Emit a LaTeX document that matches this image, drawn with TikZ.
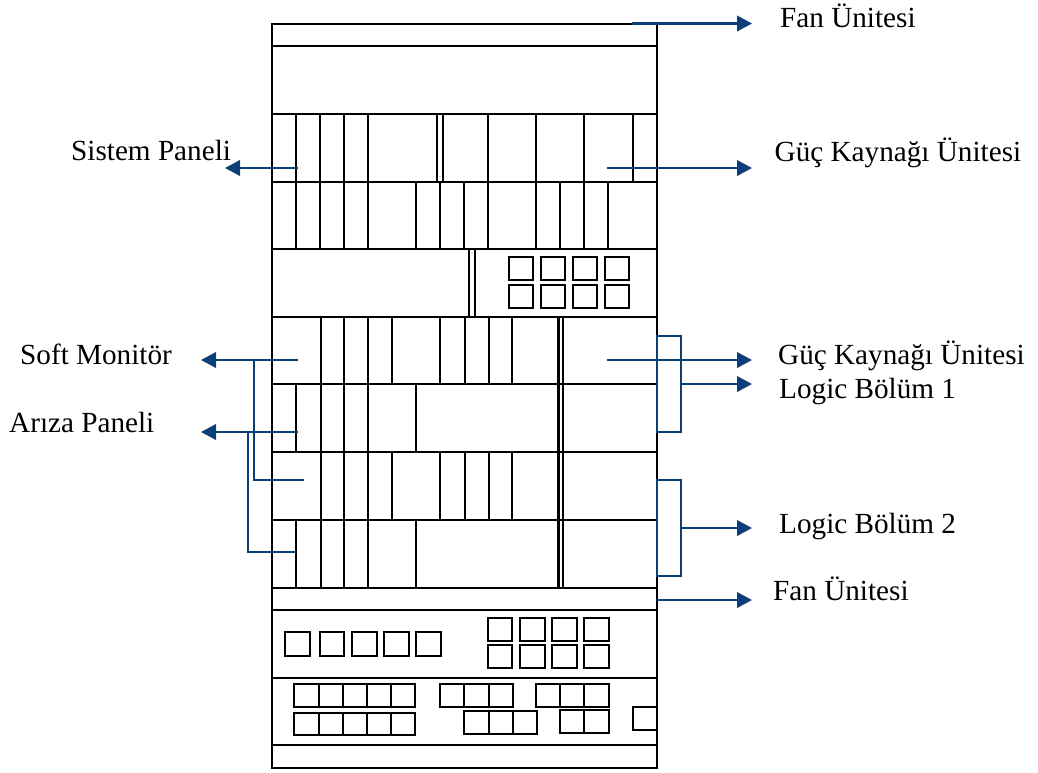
\documentclass[tikz,border=0pt]{standalone}
\usepackage{fontspec}
\setmainfont{Liberation Serif}
\usetikzlibrary{arrows.meta}
\definecolor{navy}{HTML}{0B3F78}
\tikzset{
  x=1pt,y=-1pt,
  rack/.style={draw=black,line width=1.9pt},
  part/.style={draw=black,line width=1.8pt},
  cell/.style={draw=black,line width=1.9pt},
  lead/.style={draw=navy,line width=1.8pt},
  thicklead/.style={draw=navy,line width=2.2pt},
  leadarrow/.style={thicklead,-{Triangle[length=15pt,width=15.5pt]}},
  label/.style={inner sep=0pt,anchor=base west,font=\fontsize{29.2}{32}\selectfont,text=black},
}
\newcommand{\vbars}[3]{\foreach \xx in {#3} \draw[part] (\xx,#1) -- (\xx,#2);}
\newcommand{\hboxes}[3]{% y1, y2, list of x edges (x/next)
  \foreach \xa/\xb in {#3} \draw[cell] (\xa,#1) rectangle (\xb,#2);}
\begin{document}
\begin{tikzpicture}
\useasboundingbox (0,0) rectangle (1038,772);
% rack
\draw[rack] (272,24) rectangle (656.7,768);
\foreach \yy in {46,114,182,249,316.7,384,452.3,520,587.7,610,678,745}
  \draw[rack] (272,\yy) -- (656.7,\yy);
% rows of slots
\vbars{114}{182}{296,320.3,344.3,368.3,437.3,443.3,488.3,536.3,584.3,632.7}
\vbars{182}{249}{296,320.3,344.3,368.3,416.3,440.3,464.3,488.3,536.3,560.3,584.3,608.3}
\vbars{249}{316.7}{469.3,475}
\vbars{316.7}{384}{320.7,344.3,368.3,392.3,440.3,464.7,488.7,512.3,557.7,558.6,563.3}
\vbars{384}{452.3}{296.3,320.7,344.3,368.3,416.3,557.7,558.6,563.3}
\vbars{452.3}{520}{320.7,344.3,368.3,392.3,440.3,464.7,488.7,512.3,557.7,558.6,563.3}
\vbars{520}{587.7}{296.3,320.7,344.3,368.3,416.3,557.7,558.6,563.3}
% square groups
\hboxes{257}{280}{508.7/533.3,540.7/565.3,572.7/597.3,604.7/629.3}
\hboxes{285}{307.7}{508.7/533.3,540.7/565.3,572.7/597.3,604.7/629.3}
\hboxes{632}{656}{285/310,319.7/344.3,351.7/376.7,383.7/408.7,416/441}
\hboxes{617.7}{640.7}{488/512.3,520/544.7,552/576.7,584/608.7}
\hboxes{645.3}{668}{488/512.3,520/544.7,552/576.7,584/608.7}
\hboxes{684}{707}{294.3/318.7,318.7/342.7,342.7/367,367/391,391/415,440.3/464.3,464.3/488.7,488.7/512.7,536.3/560.3,560.3/584.3,584.3/608.7}
\hboxes{712.7}{735.3}{294.3/318.7,318.7/342.7,342.7/367,367/391,391/415}
\hboxes{711}{734}{464/488.7,488.7/512.7,512.7/536.7}
\hboxes{710}{733}{560.3/584.3,584.3/608.7}
\draw[cell] (632.7,707) rectangle (656.7,729.7);
% labels
\node[label] (fanTop) at (780,27.3) {Fan Ünitesi};
\node[label] (sistem) at (71,160.6) {Sistem Paneli};
\node[label] (gucTop) at (774.5,161.6) {Güç Kaynağı Ünitesi};
\node[label] (soft) at (20,364) {Soft Monitör};
\node[label] (gucLow) at (778,364) {Güç Kaynağı Ünitesi};
\node[label] (logicA) at (779,398.3) {Logic Bölüm 1};
\node[label] (ariza) at (9,432.3) {Arıza Paneli};
\node[label] (logicB) at (779,533) {Logic Bölüm 2};
\node[label] (fanLow) at (773,600) {Fan Ünitesi};
% leader anchors
\coordinate (tFanTop) at (752,23.5);
\coordinate (sFanTop) at (631.7,23.5);
\coordinate (tSistem) at (225,168);
\coordinate (sSistem) at (297.5,168);
\coordinate (tGucTop) at (752,168);
\coordinate (sGucTop) at (607,168);
\coordinate (tSoft) at (201,360);
\coordinate (sSoft) at (297.5,360);
\coordinate (tAriza) at (201,432);
\coordinate (sAriza) at (297.5,432);
\coordinate (tGucLow) at (752,360);
\coordinate (sGucLow) at (607,360);
\coordinate (tLogicA) at (752,384);
\coordinate (tLogicB) at (752,528);
\coordinate (tFanLow) at (752,600);
\coordinate (sFanLow) at (656.7,600);
\coordinate (softJ) at (253.7,360);
\coordinate (softE) at (304.3,480);
\coordinate (arizaJ) at (248.3,432);
\coordinate (arizaE) at (296.3,551.7);
\coordinate (bracketA) at (680.7,384);
\coordinate (bracketB) at (680.7,528);
% leaders
\draw[leadarrow] (sFanTop) -- (tFanTop);
\draw[leadarrow] (sSistem) -- (tSistem);
\draw[leadarrow] (sGucTop) -- (tGucTop);
\draw[leadarrow] (sSoft) -- (tSoft);
\draw[leadarrow] (sAriza) -- (tAriza);
\draw[leadarrow] (sGucLow) -- (tGucLow);
\draw[leadarrow] (bracketA) -- (tLogicA);
\draw[leadarrow] (bracketB) -- (tLogicB);
\draw[leadarrow] (sFanLow) -- (tFanLow);
\draw[lead] (softJ) |- (softE);
\draw[lead] (arizaJ) |- (arizaE);
\draw[lead] (656.7,335.7) rectangle (680.7,432);
\draw[lead] (656.7,480) rectangle (680.7,575.7);
\end{tikzpicture}
\end{document}
